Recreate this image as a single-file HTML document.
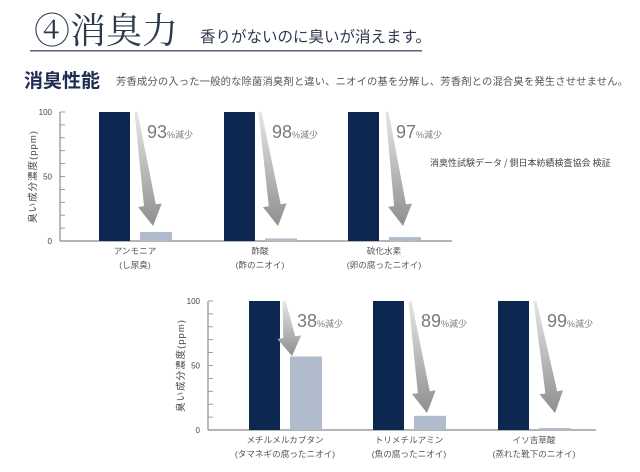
<!DOCTYPE html>
<html><head><meta charset="utf-8"><style>
body{margin:0;background:#fff;width:640px;height:472px;overflow:hidden;}
svg{display:block;font-family:"Liberation Sans","Noto Sans CJK JP",sans-serif;}
</style></head><body>
<svg id="s" width="640" height="472" xmlns="http://www.w3.org/2000/svg">
<defs><linearGradient id="g" x1="0" y1="0" x2="0" y2="1"><stop offset="0" stop-color="#e6e6e6"/><stop offset="1" stop-color="#8f8f8f"/></linearGradient></defs>
<text x="34" y="43" font-family="'Noto Serif CJK JP',serif" font-size="36" fill="#2e3850">④消臭力</text>
<text x="200" y="42" font-family="'Noto Sans CJK JP',sans-serif" font-size="15.5" fill="#2e3850">香りがないのに臭いが消えます。</text>
<rect x="30" y="50" width="392" height="1.5" fill="#56607a"/>
<text x="24" y="87" font-family="'Noto Sans CJK JP',sans-serif" font-size="19" font-weight="bold" fill="#1c2c52">消臭性能</text>
<text x="116" y="85" font-family="'Noto Sans CJK JP',sans-serif" font-size="10.3" fill="#555" textLength="512">芳香成分の入った一般的な除菌消臭剤と違い、ニオイの基を分解し、芳香剤との混合臭を発生させせません。</text>
<text x="430" y="166" font-family="'Noto Sans CJK JP',sans-serif" font-size="9" fill="#444">消臭性試験データ / 側日本紡績検査協会 検証</text>
<g id="c"></g>
</svg>
<script>
var NS="http://www.w3.org/2000/svg",c=document.getElementById('c');
function el(t,a,txt){var e=document.createElementNS(NS,t);for(var k in a)e.setAttribute(k,a[k]);if(txt)e.textContent=txt;c.appendChild(e);return e;}
function chart(ax,top,bot,endx,groups){
  var h=bot-top;
  el('line',{x1:ax,y1:top,x2:ax,y2:bot,stroke:'#777','stroke-width':1});
  el('line',{x1:ax,y1:bot,x2:endx,y2:bot,stroke:'#888','stroke-width':1.2});
  for(var i=0;i<=10;i++){var y=top+h*i/10;el('line',{x1:ax,y1:y,x2:ax+5,y2:y,stroke:'#888','stroke-width':0.8});}
  [[100,top],[50,top+h/2],[0,bot]].forEach(function(t){el('text',{x:ax-8,y:t[1]+3,'font-size':8,'text-anchor':'end',fill:'#444'},String(t[0]));});
  var ty=(top+bot)/2;
  el('text',{x:ax-24,y:ty,'font-size':9.5,'text-anchor':'middle',fill:'#444','letter-spacing':'1',transform:'rotate(-90 '+(ax-24)+' '+ty+')'},'臭い成分濃度(ppm)');
  groups.forEach(function(g){
    el('rect',{x:g.d,y:top,width:31,height:h,fill:'#0d2850'});
    var lh=h*g.v/100;el('rect',{x:g.d+41,y:bot-lh,width:32,height:lh,fill:'#b0bccb'});
    arrow(g.a[0],g.a[1],g.a[2],g.a[3],g.L);
    var t=el('text',{x:g.t,y:top+26,'font-size':18,fill:'#7a7a7a'});
    t.textContent=g.p;
    var s=document.createElementNS(NS,'tspan');s.setAttribute('font-size','9');s.textContent='%減少';t.appendChild(s);
    var cx=g.d+36;
    el('text',{x:cx,y:bot+13,'font-size':8.6,'text-anchor':'middle',fill:'#555'},g.l1);
    el('text',{x:cx,y:bot+27,'font-size':8.6,'text-anchor':'middle',fill:'#555'},g.l2);
  });
}
function arrow(x0,y0,x1,y1,L){
  var dx=x1-x0,dy=y1-y0,len=Math.sqrt(dx*dx+dy*dy),ux=dx/len,uy=dy/len,nx=-uy,ny=ux;
  var bx=x1-ux*L,by=y1-uy*L,w0=1.5,w1=6,hw=12;
  var p=[[x0+nx*w0,y0+ny*w0],[bx+nx*w1,by+ny*w1],[bx+nx*hw,by+ny*hw],[x1,y1],[bx-nx*hw,by-ny*hw],[bx-nx*w1,by-ny*w1],[x0-nx*w0,y0-ny*w0]];
  el('polygon',{points:p.map(function(q){return q[0].toFixed(1)+','+q[1].toFixed(1)}).join(' '),fill:'url(#g)'});
}
chart(60,112,241,452,[
 {d:99,v:7,a:[136,112,153,226],L:21,t:147,p:'93',l1:'アンモニア',l2:'(し尿臭)'},
 {d:224,v:2,a:[260,112,278,226],L:21,t:272,p:'98',l1:'酢酸',l2:'(酢のニオイ)'},
 {d:348,v:3,a:[387,112,403,226],L:21,t:396,p:'97',l1:'硫化水素',l2:'(卵の腐ったニオイ)'}
]);
chart(208,301,430,596,[
 {d:249,v:57,a:[284,301,292,356],L:19,t:297,p:'38',l1:'メチルメルカプタン',l2:'(タマネギの腐ったニオイ)'},
 {d:373,v:11,a:[410,301,427,413],L:21,t:421,p:'89',l1:'トリメチルアミン',l2:'(魚の腐ったニオイ)'},
 {d:498,v:1.5,a:[535,301,555,413],L:21,t:547,p:'99',l1:'イソ吉草酸',l2:'(蒸れた靴下のニオイ)'}
]);
</script>
</body></html>
